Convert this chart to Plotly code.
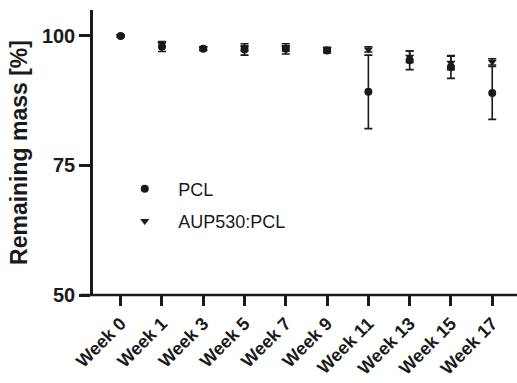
import plotly.graph_objects as go

weeks = ["Week 0", "Week 1", "Week 3", "Week 5", "Week 7", "Week 9",
         "Week 11", "Week 13", "Week 15", "Week 17"]
pcl_mean = [100.0, 97.9, 97.5, 97.4, 97.5, 97.2, 89.2, 95.3, 94.0, 89.0]
pcl_err = [0.2, 0.9, 0.3, 1.1, 1.0, 0.5, 7.1, 1.8, 2.2, 5.1]
aup_mean = [100.0, 98.4, 97.6, 97.6, 97.6, 97.4, 97.4, 96.0, 94.8, 95.0]
aup_err = [0.2, 0.5, 0.3, 0.5, 0.5, 0.4, 0.5, 1.1, 1.3, 0.6]

INK = "#1a1a1a"
FONT = "Liberation Sans, Arial, sans-serif"

fig = go.Figure()
fig.add_trace(go.Scatter(
    x=weeks, y=pcl_mean, mode="markers", name="PCL", legendgroup="a",
    marker=dict(symbol="circle", size=8, color=INK),
    error_y=dict(type="data", array=pcl_err, visible=True, color=INK,
                 thickness=1.6, width=4),
))
fig.add_trace(go.Scatter(
    x=weeks, y=aup_mean, mode="markers", name="AUP530:PCL", legendgroup="b",
    marker=dict(symbol="triangle-down", size=8, color=INK),
    error_y=dict(type="data", array=aup_err, visible=True, color=INK,
                 thickness=1.6, width=4),
))

W, H = 517, 383
ml, mr, mt, mb = 93, 0, 10, 88
pw = W - ml - mr

fig.update_layout(
    width=W, height=H,
    margin=dict(l=ml, r=mr, t=mt, b=mb),
    paper_bgcolor="white", plot_bgcolor="white",
    font=dict(family=FONT, color=INK),
    showlegend=True,
    legend=dict(x=0.043, y=0.437, xanchor="left", yanchor="top",
                font=dict(size=18, family=FONT, color=INK),
                tracegroupgap=6, itemwidth=57, bgcolor="rgba(0,0,0,0)"),
    xaxis=dict(
        type="category", range=[-0.67, 9.6], showgrid=False, zeroline=False,
        showline=False, ticks="outside", ticklen=10, tickwidth=2.5, tickcolor=INK,
        tickangle=-45, ticklabelstandoff=0, automargin=False,
        tickfont=dict(size=18, family=FONT, color=INK, weight="bold"),
    ),
    yaxis=dict(
        range=[50, 105], showgrid=False, zeroline=False, automargin=False,
        showline=True, linewidth=2.5, linecolor=INK,
        ticks="outside", ticklen=11, tickwidth=2.5, tickcolor=INK,
        tickvals=[50, 75, 100], ticktext=["50", "75", "100"],
        tickfont=dict(size=20, family=FONT, color=INK, weight="bold"),
        title=dict(text="Remaining mass [%]", standoff=8,
                   font=dict(size=23, family=FONT, color=INK, weight="bold")),
    ),
    shapes=[dict(type="line", xref="paper", yref="paper",
                 x0=-12 / pw, x1=1, y0=0, y1=0,
                 line=dict(color=INK, width=2.5), layer="above")],
)

fig.write_html("out.html")
